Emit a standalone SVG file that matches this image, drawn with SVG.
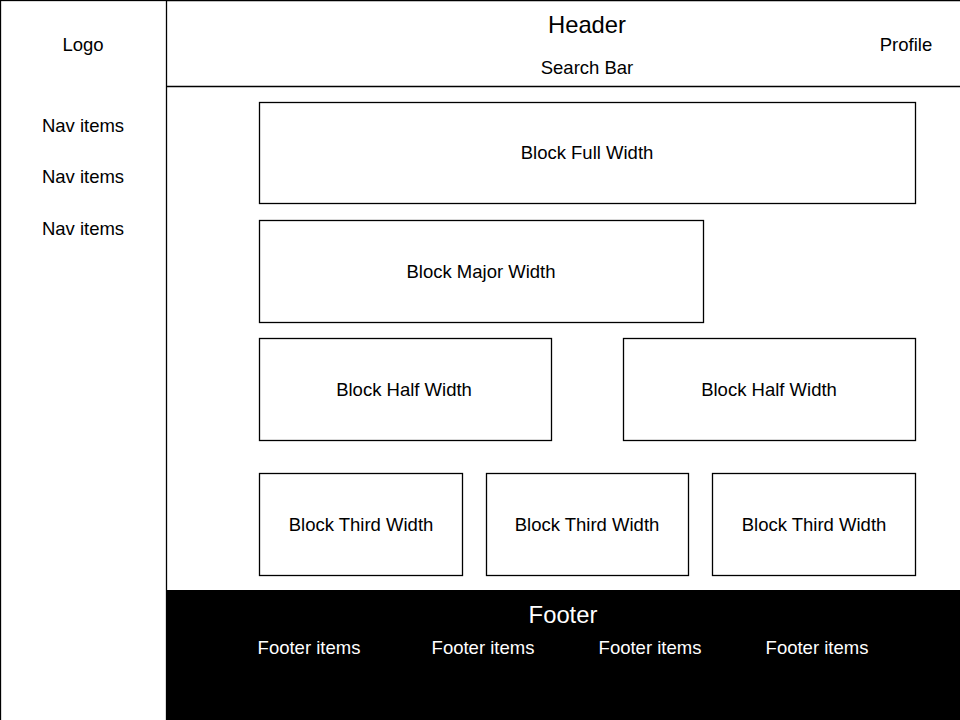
<svg xmlns="http://www.w3.org/2000/svg" width="960" height="720" viewBox="0 0 960 720">
<style>
.box{fill:#fff;stroke:#000;stroke-width:1.3}
.ln{stroke:#000;stroke-width:1.3;fill:none}
text{font-family:"Liberation Sans",Arial,sans-serif;font-size:18.5px;fill:#000;text-anchor:middle;dominant-baseline:central}
.big{font-size:23.8px}
.w{fill:#fff}
</style>
<rect x="0" y="0" width="960" height="720" fill="#fff"/>
<g id="sidebar">
<rect class="box" x="0.5" y="0.5" width="166" height="721"/>
<text x="83" y="44">Logo</text>
<text x="83" y="125">Nav items</text>
<text x="83" y="176">Nav items</text>
<text x="83" y="228">Nav items</text>
</g>
<g id="header">
<path class="ln" d="M166.5 0.5H961M166.5 86.5H961"/>
<text class="big" x="587" y="24">Header</text>
<text x="587" y="67">Search Bar</text>
<text x="906" y="44">Profile</text>
</g>
<g id="block-full">
<rect class="box" x="259.5" y="102.5" width="656" height="101"/>
<text x="587" y="152">Block Full Width</text>
</g>
<g id="block-major">
<rect class="box" x="259.5" y="220.5" width="444" height="102"/>
<text x="481" y="271">Block Major Width</text>
</g>
<g id="block-half-1">
<rect class="box" x="259.5" y="338.5" width="292" height="102"/>
<text x="404" y="389">Block Half Width</text>
</g>
<g id="block-half-2">
<rect class="box" x="623.5" y="338.5" width="292" height="102"/>
<text x="769" y="389">Block Half Width</text>
</g>
<g id="block-third-1">
<rect class="box" x="259.5" y="473.5" width="203" height="102"/>
<text x="361" y="524">Block Third Width</text>
</g>
<g id="block-third-2">
<rect class="box" x="486.5" y="473.5" width="202" height="102"/>
<text x="587" y="524">Block Third Width</text>
</g>
<g id="block-third-3">
<rect class="box" x="712.5" y="473.5" width="203" height="102"/>
<text x="814" y="524">Block Third Width</text>
</g>
<g id="footer">
<rect x="166" y="590" width="794" height="130" fill="#000"/>
<text class="big w" x="563" y="614">Footer</text>
<text class="w" x="309" y="647">Footer items</text>
<text class="w" x="483" y="647">Footer items</text>
<text class="w" x="650" y="647">Footer items</text>
<text class="w" x="817" y="647">Footer items</text>
</g>
<g id="connectors"></g>
</svg>
